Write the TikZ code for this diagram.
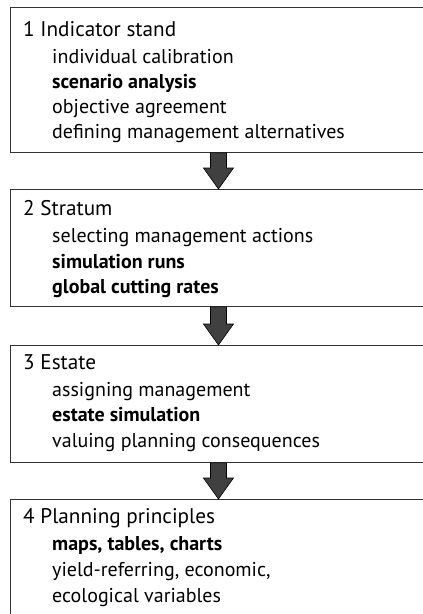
\documentclass[tikz,border=0pt]{standalone}
\usepackage{fontspec}
\setmainfont{PT Sans}
\usetikzlibrary{calc}
\begin{document}
\begin{tikzpicture}[x=1pt,y=-1pt,
  box/.style={draw=black!80,line width=0.9pt,minimum width=416pt,anchor=north west,inner sep=0pt,fill=white},
  ttl/.style={anchor=base west,inner sep=0pt,font=\fontsize{21.2}{24}\selectfont},
  itm/.style={anchor=base west,inner sep=0pt,font=\fontsize{20}{24}\selectfont},
  bitm/.style={itm,font=\fontsize{20}{24}\selectfont\bfseries},
  fatarrow/.style={draw=black,line width=0.6pt,fill=black!75,line join=miter}]
\useasboundingbox (0,0) rectangle (423,614);
\clip (0,0) rectangle (423,614);
\fill[white] (0,0) rectangle (423,614);
% boxes
\node[box,minimum height=145pt] (b1) at (10,7) {};
\node[box,minimum height=117pt] (b2) at (10,189) {};
\node[box,minimum height=117pt] (b3) at (10,345) {};
\node[box,minimum height=140pt] (b4) at (10,499) {};
% texts box 1
\node[ttl] (t1) at (23,36) {1 Indicator stand};
\node[itm] (t1a) at (52,63) {individual calibration};
\node[bitm] (t1b) at (52,88) {scenario analysis};
\node[itm] (t1c) at (52,113) {objective agreement};
\node[itm] (t1d) at (52,138) {defining management alternatives};
% box 2
\node[ttl] (t2) at (23,215) {2 Stratum};
\node[itm] (t2a) at (52,242) {selecting management actions};
\node[bitm] (t2b) at (52,268) {simulation runs};
\node[bitm] (t2c) at (52,293) {global cutting rates};
% box 3
\node[ttl] (t3) at (23,369) {3 Estate};
\node[itm] (t3a) at (52,396) {assigning management};
\node[bitm] (t3b) at (52,421) {estate simulation};
\node[itm] (t3c) at (52,447) {valuing planning consequences};
% box 4
\node[ttl] (t4) at (23,523) {4 Planning principles};
\node[bitm] (t4a) at (52,550) {maps, tables, charts};
\node[itm] (t4b) at (52,576) {yield-referring, economic,};
\node[itm] (t4c) at (52,602) {ecological variables};
% arrows
\foreach \a/\b in {b1/b2,b2/b3,b3/b4}{
  \filldraw[fatarrow] ($(\a.south)+(-8,0)$) -- ($(\b.north)+(-8,-21)$) -- ($(\b.north)+(-15,-21)$)
    -- (\b.north) -- ($(\b.north)+(15,-21)$) -- ($(\b.north)+(8,-21)$) -- ($(\a.south)+(8,0)$) -- cycle;
}
\end{tikzpicture}
\end{document}
